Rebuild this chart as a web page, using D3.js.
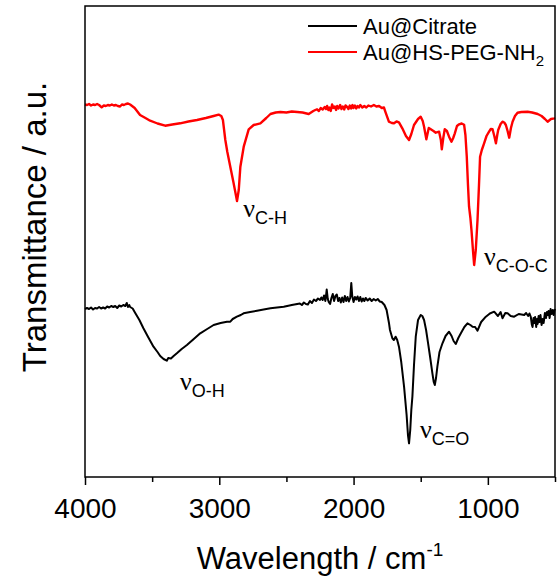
<!DOCTYPE html>
<html>
<head>
<meta charset="utf-8">
<script src="https://cdn.jsdelivr.net/npm/d3@7"></script>
<style>
body { margin: 0; background: #fff; }
svg text { font-family: 'Liberation Sans', Arial, sans-serif; fill: #000; }
</style>
</head>
<body>
<svg id="chart" width="559" height="580"></svg>
<script>
// FTIR spectra: [wavenumber cm-1, transmittance a.u.]
var peg = [[4000,37.27],[3985,37.2],[3970,37.3],[3955,37.15],[3940,37.25],[3925,37.2],[3910,37.3],[3895,37.2],[3876,36.97],[3860,37.15],
	[3845,37.1],[3830,37.2],[3815,37.15],[3800,37.25],[3785,37.15],[3770,37.2],[3755,37.1],[3739,37.05],[3725,37.25],[3710,37.2],
	[3695,37.3],[3680,37.35],[3664,37.25],[3630,36.9],[3590,36.2],[3550,35.9],[3515,35.63],[3460,35.35],[3403,35.13],[3350,35.25],
	[3291,35.37],[3230,35.55],[3166,35.7],[3100,35.9],[3042,36.1],[3005,36.23],[2985,36.1],[2973,35.7],[2955,33.7],[2940,32.5],
	[2918,31.03],[2895,29.5],[2868,27.6],[2855,28.7],[2843,31.03],[2818,33.03],[2781,34.77],[2744,35.2],[2694,35.37],[2650,35.9],
	[2619,36.3],[2580,36.45],[2545,36.5],[2500,36.45],[2460,36.55],[2420,36.5],[2380,36.45],[2334,36.3],
	[2300,36.6],[2285,36.7],[2272,36.77],[2258,36.6],[2245,36.9],[2230,36.75],[2215,37.0],[2205,36.8],[2197,37.1],[2188,36.7],
	[2180,36.95],[2170,36.6],[2160,37.25],[2150,36.9],[2140,37.05],[2130,36.7],[2122,37.1],[2112,36.85],[2100,37.2],[2090,36.8],
	[2080,37.05],[2070,36.75],[2060,37.15],[2048,37.0],[2038,36.8],[2028,37.15],[2018,36.85],[2008,37.2],[2000,36.9],[1990,37.15],
	[1980,36.85],[1970,37.1],[1960,36.95],[1950,37.2],[1935,36.95],[1920,37.1],[1905,36.95],[1890,37.15],[1870,37.05],[1849,37.2],
	[1830,37.05],[1810,37.1],[1790,36.9],[1774,36.95],
	[1761,36.43],[1737,35.53],[1715,35.4],[1699,35.37],[1680,35.55],[1662,35.47],[1637,34.87],[1610,34.1],[1587,33.7],[1570,34.3],
	[1550,35.2],[1520,35.8],[1500,36.03],[1485,35.6],[1475,35.03],[1458,33.77],[1440,34.9],[1425,34.77],[1405,34.6],[1388,34.43],
	[1363,34.53],[1350,33.7],[1343,32.77],[1332,33.9],[1321,34.77],[1305,34.6],[1289,34.03],[1271,33.53],[1258,33.9],[1246,34.37],
	[1230,35.1],[1214,35.27],[1195,35.35],[1177,35.23],[1167,34.2],[1157,32.03],[1148,29.2],[1140,27.03],[1130,25.9],[1122,24.7],
	[1110,22.5],[1102,21.2],[1090,22.7],[1077,25.7],[1066,29.2],[1058,32.03],[1045,32.7],[1028,33.37],[1010,34.1],[991,34.53],
	[978,34.8],[965,34.77],[952,34.1],[940,33.37],[930,34.2],[923,34.7],[905,35.3],[891,35.53],[878,35.45],[866,35.2],
	[853,34.6],[841,33.93],[828,34.9],[816,35.53],[798,36.1],[779,36.43],[750,36.5],[704,36.53],[670,36.45],[629,36.3],
	[600,36.1],[575,35.8],[555,35.53],[530,35.8],[505,35.87],[500,35.9]];

var citrate = [[4000,16.8],[3985,16.9],[3970,16.8],[3955,16.95],[3940,16.75],[3925,16.9],[3910,16.85],[3895,17.0],[3880,16.85],[3865,16.95],
	[3850,16.85],[3835,17.05],[3820,16.95],[3805,17.1],[3789,17.0],[3775,17.1],[3760,16.9],[3745,17.15],[3730,17.05],[3715,17.2],
	[3700,17.1],[3689,17.4],[3680,17.0],[3670,17.2],[3664,17.0],[3645,16.85],[3627,16.43],
	[3595,15.7],[3565,14.87],[3530,14.0],[3490,13.03],[3460,12.5],[3440,12.1],[3415,11.8],[3391,11.63],[3380,11.9],[3360,11.85],
	[3340,12.1],[3316,12.37],[3280,12.8],[3241,13.2],[3190,13.8],[3142,14.37],[3090,14.8],[3042,15.2],[2990,15.4],[2943,15.53],
	[2918,15.53],[2900,15.8],[2869,16.03],[2840,16.2],[2819,16.37],[2770,16.5],[2719,16.63],[2670,16.75],[2619,16.87],[2570,16.95],
	[2520,17.03],[2460,17.2],
	[2400,17.35],[2385,17.2],[2370,17.45],[2355,17.3],[2340,17.25],[2325,17.6],[2310,17.4],[2295,17.75],[2280,17.6],[2265,17.85],
	[2250,17.7],[2240,17.95],[2230,17.7],[2220,18.15],[2210,17.6],[2200,18.75],[2192,17.8],[2185,17.5],[2175,17.3],[2165,17.9],
	[2155,18.3],[2145,17.6],[2135,18.1],[2125,18.25],[2115,17.6],[2105,17.9],[2095,17.45],[2085,17.95],[2075,17.5],[2065,18.1],
	[2055,17.6],[2045,18.0],[2035,17.55],[2025,17.9],[2017,19.4],[2010,18.1],[2000,17.5],[1990,18.0],[1980,17.75],[1970,18.05],
	[1960,17.6],[1950,18.0],[1940,17.55],[1930,17.85],[1920,17.6],[1910,17.9],[1895,17.65],[1880,17.85],[1865,17.6],[1850,17.8],
	[1835,17.65],[1820,17.8],[1805,17.55],[1790,17.5],
	[1770,17.2],[1754,16.7],[1736,15.37],[1729,14.7],[1711,13.87],[1700,13.7],[1687,14.03],[1675,13.7],[1662,13.03],[1645,11.5],
	[1624,9.03],[1605,6.2],[1595,4.2],[1587,3.37],[1578,4.7],[1570,6.7],[1562,8.03],[1550,11.2],[1537,14.03],[1520,15.7],
	[1500,16.2],[1488,16.1],[1475,15.7],[1460,14.7],[1445,13.37],[1430,12.0],[1413,10.37],[1403,9.5],[1395,9.2],[1386,9.9],
	[1376,11.03],[1360,12.5],[1338,13.37],[1315,14.1],[1289,14.53],[1270,14.1],[1255,13.6],[1239,13.3],[1220,13.9],[1201,14.37],
	[1175,15.0],[1152,15.37],[1130,15.2],[1114,15.03],[1095,15.0],[1077,14.63],[1050,15.5],[1015,16.03],[985,16.35],[953,16.53],
	[925,16.1],[905,16.5],[891,15.87],[870,16.4],[853,16.37],[830,16.1],[804,16.03],[770,16.3],
	[729,16.2],[715,16.4],[700,16.1],[690,16.35],[680,16.0],[672,15.2],[667,15.0],[660,15.9],[655,15.4],[648,16.0],
	[640,15.0],[634,15.8],[629,15.3],[622,16.1],[615,15.5],[608,16.2],[600,15.2],[592,15.8],[585,15.4],[575,16.4],
	[567,15.9],[560,16.5],[555,16.2],[548,16.6],[540,15.9],[533,16.8],[525,16.3],[517,16.7],[510,16.2],[505,16.6],[500,16.8]];

var x_major = [4000, 3000, 2000, 1000];
var x_minor = [3500, 2500, 1500, 500];

var series_names = ['Au@Citrate', 'Au@HS-PEG-NH'];
var series_colors = ['#000000', '#ff0000'];

// peak labels: nu + subscript, anchored at (wavenumber, a.u.)
var peak_sub = ['C-H', 'C-O-C', 'O-H', 'C=O'];
var peak_wn = [2821, 1029, 3293, 1505];
var peak_val = [26.0, 21.2, 8.7, 3.9];

var svg = d3.select('#chart'),
	margin = { top: 6, right: 4, bottom: 103, left: 85 },
	width = 559 - margin.left - margin.right,
	height = 580 - margin.top - margin.bottom;

var x = d3.scaleLinear().domain([4000, 500]).range([0, width]);
var y = d3.scaleLinear().domain([0, 47.1]).range([height, 0]);

var g = svg.append('g').attr('transform', 'translate(' + margin.left + ',' + margin.top + ')');

var line = d3.line()
	.x(function(d) { return x(d[0]); })
	.y(function(d) { return y(d[1]); });

g.append('path').datum(citrate)
	.attr('d', line)
	.attr('fill', 'none')
	.attr('stroke', series_colors[0])
	.attr('stroke-width', 2)
	.attr('stroke-linejoin', 'round');

g.append('path').datum(peg)
	.attr('d', line)
	.attr('fill', 'none')
	.attr('stroke', series_colors[1])
	.attr('stroke-width', 2.4)
	.attr('stroke-linejoin', 'round');

// frame
g.append('rect')
	.attr('width', width)
	.attr('height', height)
	.attr('fill', 'none')
	.attr('stroke', '#000')
	.attr('stroke-width', 1.5);

var xAxis = g.append('g').attr('transform', 'translate(0,' + height + ')')
	.call(d3.axisBottom(x).tickValues(x_major).tickSize(8).tickFormat(d3.format('d')));
xAxis.select('.domain').remove();
xAxis.selectAll('line').attr('stroke-width', 1.5);
xAxis.selectAll('text')
	.attr('font-size', 28)
	.attr('font-family', 'Liberation Sans, Arial, sans-serif')
	.attr('dy', '0.95em')
	.attr('y', 14);

var xMinor = g.append('g').attr('transform', 'translate(0,' + height + ')')
	.call(d3.axisBottom(x).tickValues(x_minor).tickSize(5).tickFormat(''));
xMinor.select('.domain').remove();
xMinor.selectAll('line').attr('stroke-width', 1.5);

// axis titles
var xt = svg.append('text')
	.attr('x', margin.left + width / 2)
	.attr('y', 569)
	.attr('text-anchor', 'middle')
	.attr('font-size', 31);
xt.append('tspan').text('Wavelength / cm');
xt.append('tspan').attr('dy', -13).attr('font-size', 19).text('-1');

svg.append('text')
	.attr('transform', 'translate(46,227) rotate(-90)')
	.attr('text-anchor', 'middle')
	.attr('font-size', 33)
	.text('Transmittance / a.u.');

// peak labels
peak_sub.forEach(function(s, i) {
	var t = g.append('text')
		.attr('x', x(peak_wn[i]))
		.attr('y', y(peak_val[i]));
	t.append('tspan')
		.attr('font-family', 'Liberation Serif, Times New Roman, serif')
		.attr('font-size', 26)
		.text('\u03bd');
	t.append('tspan')
		.attr('dy', 7)
		.attr('font-size', 18)
		.text(s);
});

// legend
var legend = svg.append('g');
series_names.forEach(function(name, i) {
	var ly = 26 + i * 26;
	legend.append('line')
		.attr('x1', 308).attr('x2', 357)
		.attr('y1', ly).attr('y2', ly)
		.attr('stroke', series_colors[i])
		.attr('stroke-width', 2);
	var t = legend.append('text')
		.attr('x', 363)
		.attr('y', ly + 8)
		.attr('font-size', 22)
		.text(name);
	if (i == 1) {
		t.append('tspan').attr('dy', 6).attr('font-size', 15).text('2');
	}
});
</script>
</body>
</html>
